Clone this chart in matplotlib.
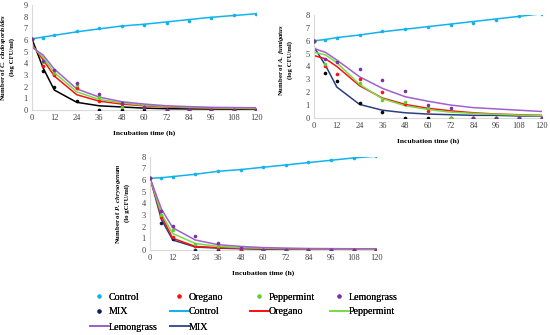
import matplotlib
matplotlib.use("Agg")
import matplotlib.pyplot as plt
from matplotlib.lines import Line2D

plt.rcParams['font.family'] = ['Liberation Serif', 'DejaVu Serif']
plt.rcParams['mathtext.fontset'] = 'custom'
plt.rcParams['mathtext.rm'] = 'Liberation Serif:bold'
plt.rcParams['mathtext.it'] = 'Liberation Serif:bold:italic'
plt.rcParams['mathtext.bf'] = 'Liberation Serif:bold'

time = [0, 6, 12, 24, 36, 48, 60, 72, 84, 96, 108, 120]
xticks = [0, 12, 24, 36, 48, 60, 72, 84, 96, 108, 120]

# Panel 1: C. cladosporioides
p1_control_pts = [6.1, 6.2, 6.4, 6.8, 7.0, 7.2, 7.3, 7.5, 7.65, 7.9, 8.15, 8.25]
p1_control_fit = [6.1, 6.25, 6.4, 6.7, 6.95, 7.2, 7.35, 7.55, 7.75, 7.95, 8.1, 8.25]
p1_oregano_pts = [6.1, 3.8, 3.0, 1.9, 0.8, 0.5, 0.25, 0, 0, 0, 0, 0]
p1_oregano_fit = [5.6, 4.3, 2.9, 1.3, 0.75, 0.5, 0.35, 0.25, 0.2, 0.15, 0.12, 0.1]
p1_pepper_pts = [6.1, 4.1, 3.2, 2.1, 1.1, 0.25, 0.25, 0, 0, 0, 0, 0]
p1_pepper_fit = [5.5, 4.5, 3.2, 1.55, 0.9, 0.6, 0.4, 0.3, 0.22, 0.18, 0.15, 0.12]
p1_lemon_pts = [6.1, 4.2, 3.4, 2.3, 1.4, 0.6, 0.25, 0, 0, 0, 0, 0]
p1_lemon_fit = [5.4, 4.7, 3.5, 1.8, 1.1, 0.7, 0.5, 0.35, 0.28, 0.22, 0.2, 0.18]
p1_mix_pts = [6.1, 3.3, 1.95, 0.8, 0.0, 0.0, 0.0, 0.0, 0.0, 0.0, 0.0, 0.0]
p1_mix_fit = [6.1, 3.6, 1.7, 0.65, 0.35, 0.25, 0.15, 0.1, 0.08, 0.07, 0.06, 0.05]

# Panel 2: A. fumigatus
p2_control_pts = [6.0, 6.1, 6.2, 6.45, 6.75, 6.95, 7.05, 7.2, 7.4, 7.65, 7.95, 8.05]
p2_control_fit = [6.0, 6.1, 6.25, 6.45, 6.7, 6.9, 7.1, 7.3, 7.5, 7.7, 7.9, 8.1]
p2_oregano_pts = [6.0, 4.0, 3.4, 3.0, 2.0, 1.1, 0.55, 0, 0, 0, 0, 0]
p2_oregano_fit = [4.85, 4.6, 4.0, 2.5, 1.55, 1.05, 0.75, 0.55, 0.4, 0.3, 0.25, 0.2]
p2_pepper_pts = [6.0, 4.2, 4.4, 2.7, 1.4, 1.2, 0.75, 0, 0, 0, 0, 0]
p2_pepper_fit = [5.1, 4.9, 4.3, 2.6, 1.5, 0.95, 0.65, 0.45, 0.35, 0.28, 0.22, 0.18]
p2_lemon_pts = [6.0, 4.6, 4.35, 3.8, 2.95, 2.1, 1.0, 0.75, 0, 0, 0, 0]
p2_lemon_fit = [5.4, 5.1, 4.5, 3.2, 2.3, 1.65, 1.3, 1.0, 0.8, 0.7, 0.6, 0.5]
p2_mix_pts = [6.0, 3.5, 2.85, 1.15, 0.45, 0, 0, 0, 0, 0, 0, 0]
p2_mix_fit = [5.5, 4.1, 2.4, 1.05, 0.6, 0.4, 0.3, 0.25, 0.2, 0.2, 0.15, 0.15]

# Panel 3: P. chrysogenum
p3_control_pts = [6.15, 6.2, 6.3, 6.5, 6.8, 6.9, 7.1, 7.3, 7.55, 7.75, 7.9, 8.05]
p3_control_fit = [6.15, 6.2, 6.3, 6.5, 6.75, 6.9, 7.1, 7.3, 7.5, 7.7, 7.9, 8.05]
p3_oregano_pts = [6.15, 2.8, 1.15, 0.3, 0.2, 0.1, 0, 0, 0, 0, 0, 0]
p3_oregano_fit = [6.15, 2.9, 1.0, 0.3, 0.2, 0.15, 0.1, 0.1, 0.08, 0.07, 0.06, 0.05]
p3_pepper_pts = [6.15, 3.0, 1.7, 0.55, 0.3, 0.15, 0, 0, 0, 0, 0, 0]
p3_pepper_fit = [6.15, 3.1, 1.4, 0.55, 0.3, 0.2, 0.15, 0.12, 0.1, 0.09, 0.08, 0.07]
p3_lemon_pts = [6.15, 3.3, 2.05, 1.2, 0.6, 0.2, 0, 0, 0, 0, 0, 0]
p3_lemon_fit = [6.15, 3.5, 1.9, 0.85, 0.45, 0.3, 0.2, 0.15, 0.12, 0.11, 0.1, 0.1]
p3_mix_pts = [6.15, 2.35, 0.9, 0.0, 0.0, 0.0, 0.0, 0.0, 0.0, 0.0, 0.0, 0.0]
p3_mix_fit = [6.15, 2.6, 0.85, 0.25, 0.15, 0.1, 0.05, 0.05, 0.04, 0.03, 0.03, 0.03]

C_CTRL = '#12b2ee'
C_OREG = '#ff1010'
C_PEP_PT = '#66cc33'
C_PEP_LN = '#77dd44'
C_LEM_PT = '#7a30a8'
C_LEM_LN = '#a060d0'
C_NAVY = '#0c1f5c'
C_NAVY_LN = '#2a3f80'
C_NAVY_LEG = '#3f5590'
GRID = '#d9d9d9'

fig = plt.figure(figsize=(5.5, 3.35), dpi=100)

def panel(rect, ymax, series, ylab, labcoords):
    ax = fig.add_axes(rect)
    for fit, pts, lc, pc in series:
        ax.plot(time, fit, color=lc, lw=1.1, zorder=2)
    for fit, pts, lc, pc in series:
        ax.plot(time, pts, 'o', color=pc, ms=2.6, zorder=3, mew=0)
    ax.set_xlim(0, 120)
    ax.set_ylim(0, ymax)
    ax.set_xticks(xticks)
    ax.set_yticks(range(0, int(ymax) + 1))
    ax.tick_params(length=0, labelsize=6, colors='#404040', pad=3)
    for s in ['top', 'right']:
        ax.spines[s].set_visible(False)
    for s in ['left', 'bottom']:
        ax.spines[s].set_color(GRID)
        ax.spines[s].set_linewidth(0.8)
    ax.set_xlabel('Incubation time (h)', fontsize=5.4, fontweight='bold', labelpad=6)
    ax.set_ylabel(ylab, fontsize=4.9, fontweight='bold', linespacing=1.3)
    ax.yaxis.set_label_coords(*labcoords)
    return ax

panel([0.058, 0.672, 0.408, 0.313], 9,
      [(p1_control_fit, p1_control_pts, C_CTRL, C_CTRL),
       (p1_mix_fit, p1_mix_pts, '#000000', '#000000'),
       (p1_oregano_fit, p1_oregano_pts, C_OREG, C_OREG),
       (p1_pepper_fit, p1_pepper_pts, C_PEP_LN, C_PEP_PT),
       (p1_lemon_fit, p1_lemon_pts, C_LEM_LN, C_LEM_PT)],
      'Number of$\\it{\\ C.\\ cladosporioides}$\n(log CFU/ml)', (-0.075, 0.5))

panel([0.571, 0.648, 0.414, 0.307], 8,
      [(p2_control_fit, p2_control_pts, C_CTRL, C_CTRL),
       (p2_mix_fit, p2_mix_pts, C_NAVY_LN, '#000000'),
       (p2_oregano_fit, p2_oregano_pts, C_OREG, C_OREG),
       (p2_pepper_fit, p2_pepper_pts, C_PEP_LN, C_PEP_PT),
       (p2_lemon_fit, p2_lemon_pts, C_LEM_LN, C_LEM_PT)],
      'Number of$\\it{\\ A.\\ fumigatus}$\n(log CFU/ml)', (-0.093, 0.56))

panel([0.273, 0.254, 0.411, 0.278], 8,
      [(p3_control_fit, p3_control_pts, C_CTRL, C_CTRL),
       (p3_mix_fit, p3_mix_pts, C_NAVY_LN, C_NAVY),
       (p3_oregano_fit, p3_oregano_pts, C_OREG, C_OREG),
       (p3_pepper_fit, p3_pepper_pts, C_PEP_LN, C_PEP_PT),
       (p3_lemon_fit, p3_lemon_pts, C_LEM_LN, C_LEM_PT)],
      'Number of$\\it{\\ P.\\ chrysogenum}$\n(lo gCFU/ml)', (-0.087, 0.5))

# Legend: 4 columns, placed uniformly
def mk(c):
    return Line2D([], [], marker='o', ls='none', color=c, ms=3, mew=0)
def ln(c):
    return Line2D([], [], color=c, lw=1.3)

columns = [
    [(mk(C_CTRL), 'Control'), (mk(C_NAVY), 'MIX'), (ln(C_LEM_LN), 'Lemongrass')],
    [(mk(C_OREG), 'Oregano'), (ln(C_CTRL), 'Control'), (ln(C_NAVY_LEG), 'MIX')],
    [(mk(C_PEP_PT), 'Peppermint'), (ln(C_OREG), 'Oregano')],
    [(mk(C_LEM_PT), 'Lemongrass'), (ln(C_PEP_LN), 'Peppermint')],
]
col_x = [90, 170, 250, 330]
for xpx, items in zip(col_x, columns):
    leg = fig.legend([h for h, _ in items], [l for _, l in items],
                     loc='upper left', bbox_to_anchor=(xpx / 550, 1 - 292.5 / 335),
                     frameon=False, fontsize=7.2, handlelength=1.85,
                     handletextpad=0.05, labelspacing=0.6, borderpad=0,
                     borderaxespad=0)
    fig.add_artist(leg)

fig.savefig('out.png', dpi=100)
